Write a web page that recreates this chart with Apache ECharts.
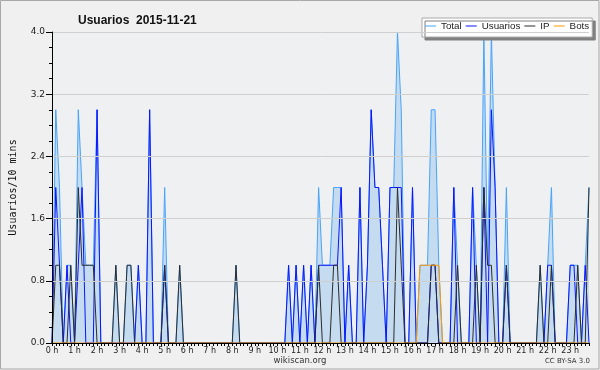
<!DOCTYPE html>
<html><head><meta charset="utf-8">
<script src="https://cdn.jsdelivr.net/npm/echarts@6/dist/echarts.min.js"></script>
<style>html,body{margin:0;padding:0;background:#f0f0f0}#c{width:600px;height:370px}</style>
</head><body><div id="c"></div>
<script>
const hourLabels = ["0 h","1 h","2 h","3 h","4 h","5 h","6 h","7 h","8 h","9 h","10 h","11 h","12 h","13 h","14 h","15 h","16 h","17 h","18 h","19 h","20 h","21 h","22 h","23 h"];
const minuteSteps = ["00","10","20","30","40","50"];
const yTicks = [0, 0.8, 1.6, 2.4, 3.2, 4.0];
const seriesNames = ['Total', 'Usuarios', 'IP', 'Bots'];

const totalValues = [
  0,3,2,0,1,1,  0,3,2,1,1,1,  3,0,0,0,0,1,  0,0,1,1,0,1,
  0,0,3,0,0,0,  2,0,0,0,1,0,  0,0,0,0,0,0,  0,0,0,0,0,0,
  0,1,0,0,0,0,  0,0,0,0,0,0,  0,0,0,1,0,1,  0,1,0,1,0,2,
  1,1,1,2,2,2,  0,1,0,0,2,0,  1,3,2,2,1,0,  2,2,4,3,0,0,
  2,0,1,1,1,3,  3,1,0,0,0,2,  1,0,0,0,2,1,  0,4,1,4,2,0,
  0,2,0,0,0,0,  0,0,0,0,1,0,  1,2,0,0,0,0,  1,1,1,0,1,2
];
const usuariosValues = [
  0,2,1,0,1,0,  0,1,2,0,0,0,  3,0,0,0,0,0,  0,0,0,0,0,1,
  0,0,3,0,0,0,  1,0,0,0,0,0,  0,0,0,0,0,0,  0,0,0,0,0,0,
  0,0,0,0,0,0,  0,0,0,0,0,0,  0,0,0,1,0,1,  0,1,0,1,0,1,
  1,1,1,1,1,2,  0,1,0,0,2,0,  1,3,2,2,1,0,  2,2,2,2,0,0,
  2,0,0,0,0,1,  1,0,0,0,0,2,  0,0,0,0,2,0,  0,2,0,3,2,0,
  0,1,0,0,0,0,  0,0,0,0,0,0,  1,1,0,0,0,0,  1,1,0,0,1,0
];
const ipValues = [
  0,1,1,0,0,1,  0,2,1,1,1,1,  0,0,0,0,0,1,  0,0,1,1,0,0,
  0,0,0,0,0,0,  1,0,0,0,1,0,  0,0,0,0,0,0,  0,0,0,0,0,0,
  0,1,0,0,0,0,  0,0,0,0,0,0,  0,0,0,0,0,0,  0,0,0,0,0,1,
  0,0,0,1,1,0,  0,0,0,0,0,0,  0,0,0,0,0,0,  0,0,2,1,0,0,
  0,0,0,0,0,1,  1,0,0,0,0,0,  1,0,0,0,0,1,  0,2,1,1,0,0,
  0,1,0,0,0,0,  0,0,0,0,1,0,  0,1,0,0,0,0,  0,0,1,0,0,2
];
const botsValues = [
  0,0,0,0,0,0,  0,0,0,0,0,0,  0,0,0,0,0,0,  0,0,0,0,0,0,
  0,0,0,0,0,0,  0,0,0,0,0,0,  0,0,0,0,0,0,  0,0,0,0,0,0,
  0,0,0,0,0,0,  0,0,0,0,0,0,  0,0,0,0,0,0,  0,0,0,0,0,0,
  0,0,0,0,0,0,  0,0,0,0,0,0,  0,0,0,0,0,0,  0,0,0,0,0,0,
  0,0,1,1,1,1,  1,1,0,0,0,0,  0,0,0,0,0,0,  0,0,0,0,0,0,
  0,0,0,0,0,0,  0,0,0,0,0,0,  0,0,0,0,0,0,  0,0,0,0,0,0
];
const seriesColors = ['#47a3fb', '#0a14ff', '#2c2c2c', '#ff9900'];

const categories = [];
hourLabels.forEach(h => minuteSteps.forEach(m => categories.push(h + " " + m)));

const chart = echarts.init(document.getElementById('c'), null, {renderer: 'canvas'});
const txt = '#222';
const valueSets = [totalValues, usuariosValues, ipValues, botsValues];
chart.setOption({
  animation: false,
  backgroundColor: '#f0f0f0',
  title: {
    text: 'Usuarios  2015-11-21',
    left: 73, top: 10,
    textStyle: {fontFamily: 'Liberation Sans', fontWeight: 'bold', fontSize: 12, color: '#111'}
  },
  legend: {
    left: 422, top: 18,
    padding: [2, 3, 5, 3],
    itemGap: 4,
    itemWidth: 11, itemHeight: 1,
    icon: 'rect',
    itemStyle: {borderWidth: 0},
    backgroundColor: '#fff',
    borderColor: '#aaa', borderWidth: 1,
    shadowColor: '#808080', shadowOffsetX: 3, shadowOffsetY: 3, shadowBlur: 0,
    textStyle: {fontFamily: 'Liberation Sans', fontSize: 9.8, color: txt, lineHeight: 12},
    data: seriesNames.map((n, k) => ({name: n, itemStyle: {color: seriesColors[k], borderWidth: 0}}))
  },
  grid: {left: 46.7, right: 11, top: 32, bottom: 27, show: true, backgroundColor: '#eef0f2', borderWidth: 0},
  xAxis: {
    type: 'category', data: categories, boundaryGap: false, z: 10,
    axisLine: {lineStyle: {color: '#000', width: 1}},
    axisTick: {show: true, interval: 0, length: 3, lineStyle: {color: '#000'}},
    axisLabel: {
      interval: 5, margin: 4, fontFamily: 'DejaVu Sans', fontSize: 8, color: txt,
      formatter: (v, i) => hourLabels[Math.floor(i / 6)]
    },
    splitLine: {show: false}
  },
  yAxis: {
    type: 'value', min: 0, max: 4, interval: 0.8, z: 10,
    name: 'Usuarios/10 mins', nameLocation: 'middle', nameGap: 34, nameRotate: 90,
    nameTextStyle: {fontFamily: 'DejaVu Sans Mono', fontSize: 10, color: '#111'},
    axisLine: {show: true, lineStyle: {color: '#000'}},
    axisTick: {show: true, length: 6, lineStyle: {color: '#000'}},
    minorTick: {show: true, splitNumber: 4, length: 3, lineStyle: {color: '#000'}},
    axisLabel: {margin: 7, fontFamily: 'DejaVu Sans', fontSize: 9, color: txt,
      formatter: v => { const t = yTicks.find(x => Math.abs(x - v) < 1e-6); return (t !== undefined ? t : v).toFixed(1); }},
    splitLine: {show: true, lineStyle: {color: '#cfcfcf', width: 1}}
  },
  series: seriesNames.map((n, k) => {
    const s = {name: n, type: 'line', data: valueSets[k], symbol: 'none', z: 2 + k,
      lineStyle: {color: seriesColors[k], width: 1}, itemStyle: {color: seriesColors[k]}};
    if (k === 0) s.areaStyle = {color: '#c5dcf0', opacity: 1};
    return s;
  }),
  graphic: [
    {type: 'rect', shape: {x: 0.5, y: 0.5, width: 598.5, height: 368.5}, style: {fill: 'none', stroke: '#a8a8a8', lineWidth: 1}, silent: true, z: 100},
    {type: 'text', left: 'center', top: 356, style: {text: 'wikiscan.org', fontFamily: 'DejaVu Sans', fontSize: 8.5, fill: '#333'}},
    {type: 'text', right: 10, top: 358, style: {text: 'CC BY-SA 3.0', fontFamily: 'DejaVu Sans', fontSize: 7, fill: '#333'}}
  ]
});
</script>
</body></html>
